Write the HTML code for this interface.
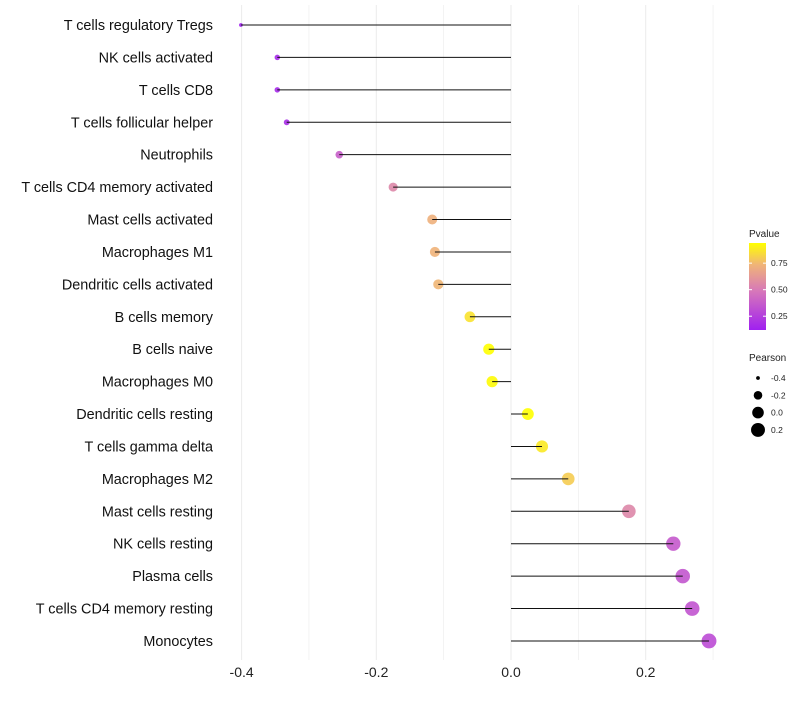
<!DOCTYPE html>
<html><head><meta charset="utf-8"><style>
body{margin:0;background:#fff;font-family:"Liberation Sans",sans-serif}
</style></head><body>
<svg id="c" width="800" height="700" xmlns="http://www.w3.org/2000/svg" font-family="Liberation Sans, sans-serif"></svg>
<script>
const categories=["T cells regulatory  Tregs","NK cells activated","T cells CD8","T cells follicular helper","Neutrophils","T cells CD4 memory activated","Mast cells activated","Macrophages M1","Dendritic cells activated","B cells memory","B cells naive","Macrophages M0","Dendritic cells resting","T cells gamma delta","Macrophages M2","Mast cells resting","NK cells resting","Plasma cells","T cells CD4 memory resting","Monocytes"];
const pearson=[-0.401,-0.347,-0.347,-0.333,-0.255,-0.175,-0.117,-0.113,-0.108,-0.061,-0.033,-0.028,0.025,0.046,0.085,0.175,0.241,0.255,0.269,0.294];
const pvalue=[0.12,0.16,0.16,0.18,0.38,0.55,0.72,0.73,0.74,0.86,0.94,0.93,0.94,0.88,0.8,0.55,0.36,0.35,0.34,0.3];
const xTicks=[-0.4,-0.2,0,0.2];
const xMinor=[-0.3,-0.1,0.1,0.3];
const colorTicks=[0.25,0.5,0.75];
const sizeTicks=[-0.4,-0.2,0.0,0.2];
const sizeTickLabels=["-0.4","-0.2","0.0","0.2"];
const svg=document.getElementById('c');
const NS="http://www.w3.org/2000/svg";
function mk(t,a,p){const e=document.createElementNS(NS,t);for(const k in a)e.setAttribute(k,a[k]);(p||svg).appendChild(e);return e;}
const x=v=>511+v*673.5;
const y=i=>25+i*32.42;
const pMin=0.12,pMax=0.94;
const stops=[[0,[160,32,240]],[0.45,[215,120,185]],[0.75,[240,180,120]],[1,[255,255,0]]];
function col(p){let t=Math.max(0,Math.min(1,(p-pMin)/(pMax-pMin)));for(let i=1;i<stops.length;i++){if(t<=stops[i][0]){const a=stops[i-1],b=stops[i];const f=(t-a[0])/(b[0]-a[0]);const c=a[1].map((v,k)=>Math.round(v+(b[1][k]-v)*f));return `rgb(${c})`;}}return 'rgb(255,255,0)';}
const sMin=-0.401,sMax=0.294;
const rad=v=>Math.sqrt(3.5+(v-sMin)/(sMax-sMin)*52);
xMinor.forEach(v=>{const g=mk('line',{x1:x(v),x2:x(v),y1:5,y2:660,stroke:'#ebebeb','stroke-width':0.6});});
xTicks.forEach(v=>{const g=mk('line',{x1:x(v),x2:x(v),y1:5,y2:660,stroke:'#ebebeb','stroke-width':1});
const t=mk('text',{x:x(v),y:677,'text-anchor':'middle','font-size':14,fill:'#222'});t.textContent=v===0?'0.0':v.toFixed(1);});
categories.forEach((c,i)=>{
const t=mk('text',{x:213,y:y(i)+5,'text-anchor':'end','font-size':14.4,fill:'#111'});t.textContent=c;
const d=mk('circle',{cx:x(pearson[i]),cy:y(i),r:rad(pearson[i]),fill:col(pvalue[i]),'fill-opacity':0.9});
const l=mk('line',{x1:x(0),x2:x(pearson[i]),y1:y(i),y2:y(i),stroke:'#111','stroke-width':1});
});
const lt=mk('text',{x:749,y:237,'font-size':10,fill:'#222'});lt.textContent='Pvalue';
const defs=mk('defs',{});const lg=mk('linearGradient',{id:'g',x1:0,y1:1,x2:0,y2:0},defs);
stops.forEach(s=>mk('stop',{offset:s[0],'stop-color':`rgb(${s[1]})`},lg));
const bar=mk('rect',{x:749,y:243,width:17,height:87,fill:'url(#g)'});
const cy=p=>330-(p-pMin)/(pMax-pMin)*87;
colorTicks.forEach(p=>{mk('line',{x1:749,x2:752,y1:cy(p),y2:cy(p),stroke:'#fff'});mk('line',{x1:763,x2:766,y1:cy(p),y2:cy(p),stroke:'#fff'});
const t=mk('text',{x:771,y:cy(p)+3,'font-size':8.5,fill:'#222'});t.textContent=p.toFixed(2);});
const st=mk('text',{x:749,y:361,'font-size':10,fill:'#222'});st.textContent='Pearson';
sizeTicks.forEach((v,i)=>{const yy=378+i*17.3;const c=mk('circle',{cx:758,cy:yy,r:rad(v),fill:'#000'});
const t=mk('text',{x:771,y:yy+3,'font-size':8.5,fill:'#222'});t.textContent=sizeTickLabels[i];});
</script>
</body></html>
